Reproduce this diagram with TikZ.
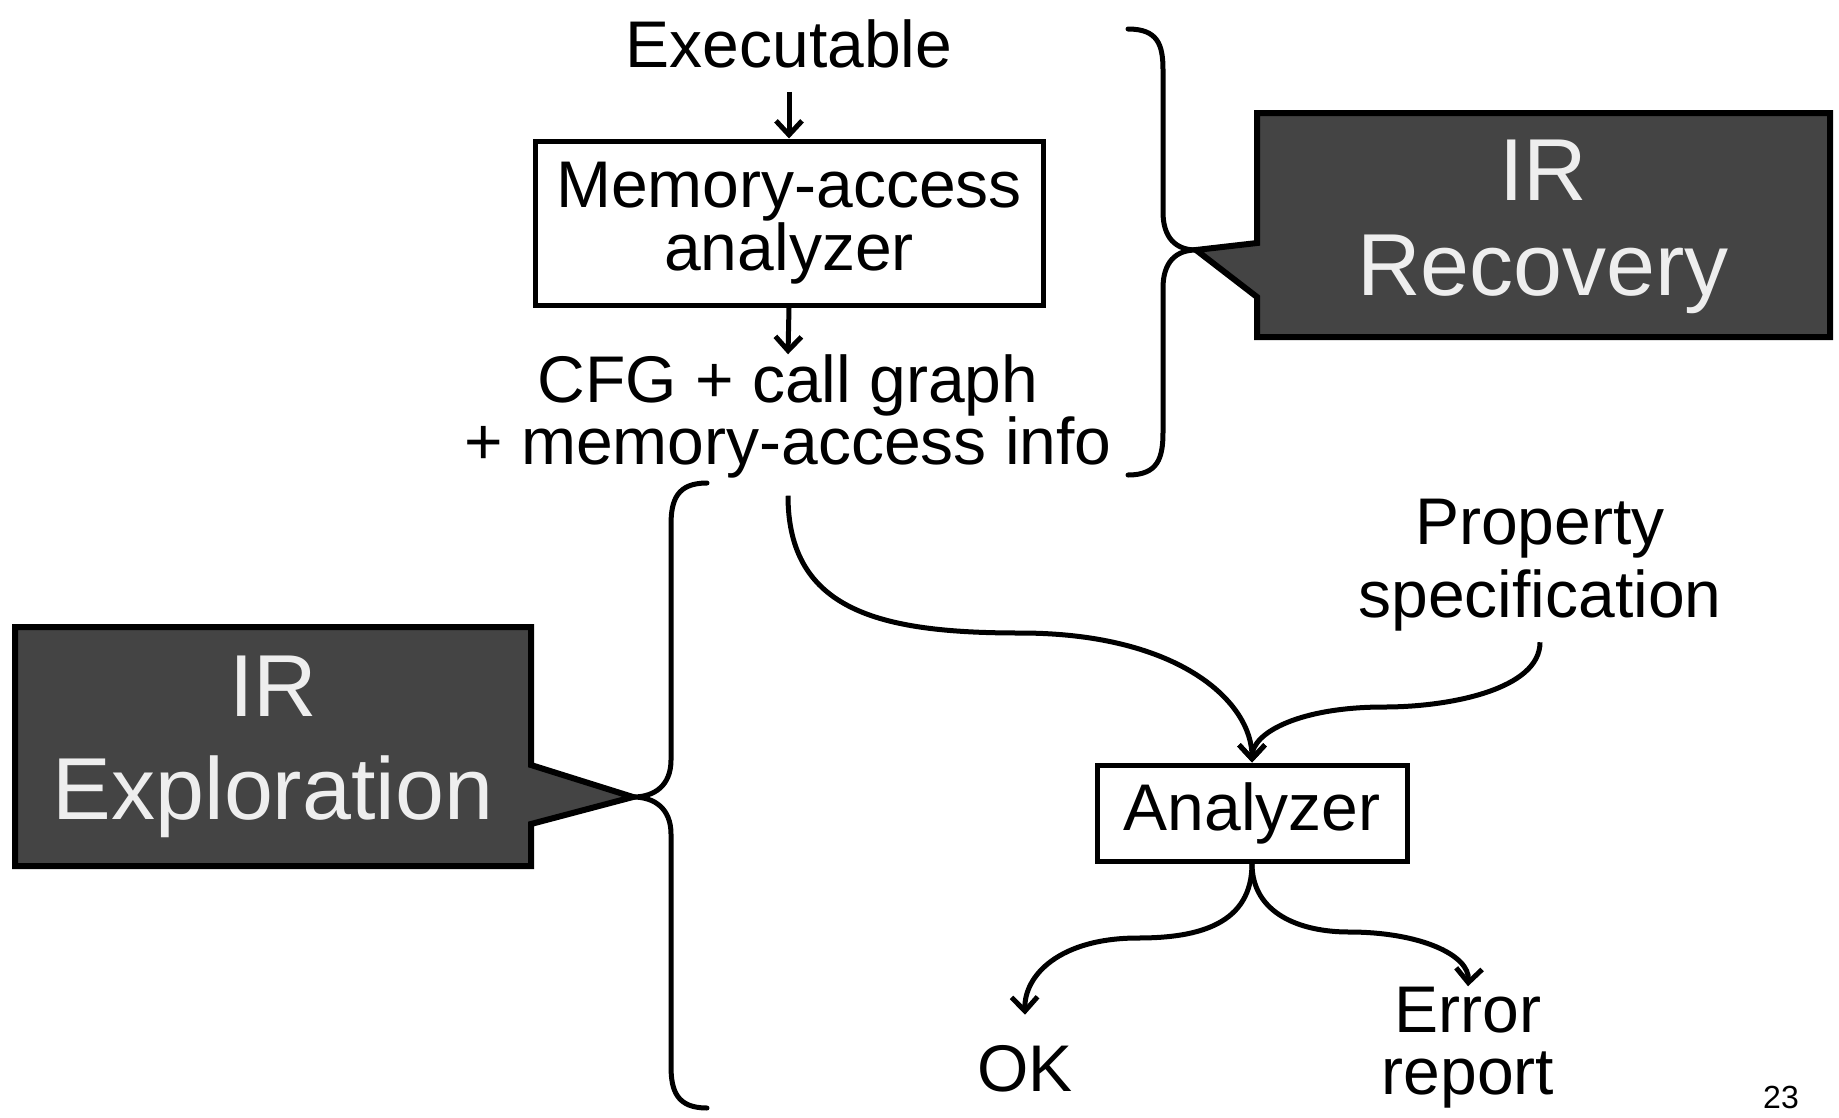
\documentclass[tikz,border=0pt]{standalone}
\usepackage{fontspec}
\setmainfont{Liberation Sans}
\usetikzlibrary{arrows.meta}
\definecolor{calloutfill}{HTML}{444444}
\definecolor{callouttext}{HTML}{EEEEEE}
\begin{document}
\begin{tikzpicture}[x=1pt,y=-1pt,
  txt/.style={inner sep=0pt, align=center, font=\fontsize{66}{60}\selectfont},
  procbox/.style={txt, draw, line width=5pt},
  bigtxt/.style={inner sep=0pt, align=center, text=callouttext},
  callout/.style={draw, line width=6pt, fill=calloutfill, line join=miter},
  flow/.style={line width=5pt, -{Straight Barb[length=14pt,width=26pt]}},
  brace/.style={line width=5pt, line cap=round}]
\useasboundingbox (0,0) rectangle (1839,1117);
\fill[white] (0,0) rectangle (1839,1117);

% text and boxes of the pipeline
\node[txt, anchor=base] (exe) at (789,67) {Executable};
\node[procbox, minimum width=508pt, minimum height=164pt] (mem) at (789,223)
  {Memory-access\\analyzer};
\node[txt, font=\fontsize{66}{55}\selectfont] (cfg) at (788,416.5)
  {CFG + call graph\\+ memory-access info};
\node[txt, font=\fontsize{66}{73}\selectfont] (prop) at (1540,565)
  {Property\\specification};
\node[procbox, minimum width=310pt, minimum height=96pt] (ana) at (1252,813) {Analyzer};
\node[txt, anchor=base] (ok) at (1025,1091) {OK};
\node[txt, font=\fontsize{66}{62}\selectfont] (err) at (1468,1048) {Error\\report};
\node[inner sep=0pt, anchor=base, font=\fontsize{32}{36}\selectfont] (pg) at (1781,1108) {23};

% connectors
\draw[flow] ([yshift=-24pt]exe.south) -- (mem.north);
\draw[flow] (mem.south) -- (cfg.north);
\draw[flow] ([yshift=-17pt]cfg.south)
  .. controls ++(0,115) and (880,633) .. (1020,633)
  .. controls (1180,633) and ([yshift=60pt]ana.north) .. (ana.north);
\draw[flow] ([yshift=-11pt]prop.south)
  .. controls ++(0,47) and (1450,707) .. (1384,707)
  .. controls (1300,707) and ([yshift=30pt]ana.north) .. (ana.north);
\draw[flow] (ana.south)
  .. controls ++(0,60) and (1200,938) .. (1138,938)
  .. controls (1060,938) and (1024,975) .. ([yshift=30pt]ok.north);
\draw[flow] (ana.south)
  .. controls ++(0,50) and (1300,932) .. (1349,932)
  .. controls (1420,932) and (1470,955) .. ([yshift=1pt]err.north);

% callouts
\draw[callout] (1257,113) -- (1830,113) -- (1830,337) -- (1257,337)
  -- (1257,297) -- (1196,250) -- (1257,243) -- cycle;
\node[bigtxt, font=\fontsize{88}{95}\selectfont] (rec) at (1543,227) {IR\\Recovery};
\draw[callout] (15,627) -- (531,627) -- (531,765) -- (633,797)
  -- (531,824) -- (531,866) -- (15,866) -- cycle;
\node[bigtxt, font=\fontsize{88}{103}\selectfont] (expl) at (273,747) {IR\\Exploration};

% braces
\draw[brace] (1128,29) .. controls (1158,29) and (1163,45) .. (1163,70)
  -- (1163,212) .. controls (1163,238) and (1176,250) .. (1196,250)
  .. controls (1176,250) and (1163,262) .. (1163,288)
  -- (1163,432) .. controls (1163,458) and (1158,475) .. (1128,475);
\draw[brace] (707,483) .. controls (677,483) and (671,500) .. (671,525)
  -- (671,760) .. controls (671,785) and (655,797) .. (633,797)
  .. controls (655,797) and (671,809) .. (671,834)
  -- (671,1066) .. controls (671,1091) and (677,1108) .. (707,1108);
\end{tikzpicture}
\end{document}
